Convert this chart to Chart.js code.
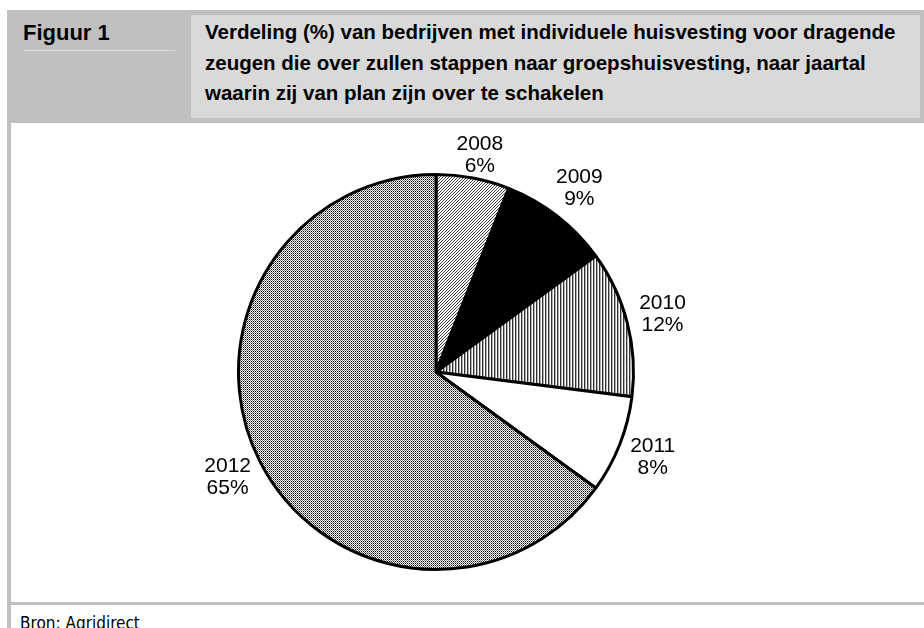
<!DOCTYPE html>
<html lang="nl">
<head>
    <meta charset="UTF-8">
    <title>Figuur 1</title>
    <script src="https://cdn.jsdelivr.net/npm/chart.js@4.4.0/dist/chart.umd.min.js"></script>
    <style>
        body {
            margin: 0;
            width: 924px;
            height: 628px;
            overflow: hidden;
            background: #ffffff;
            position: relative;
            font-family: 'Liberation Sans', Arial, sans-serif;
        }
        .frame {
            position: absolute;
            left: 7px;
            top: 10px;
            width: 917px;
            height: 113px;
            background: #c0c0c0;
        }
        .fig {
            position: absolute;
            left: 23px;
            top: 20px;
            font-weight: bold;
            font-size: 22px;
            color: #000;
        }
        .fig-line {
            position: absolute;
            left: 23px;
            top: 50px;
            width: 152px;
            height: 1px;
            background: #dcdcdc;
        }
        .title {
            position: absolute;
            left: 191px;
            top: 15px;
            width: 729px;
            height: 103px;
            background: #d9d9d9;
            box-sizing: border-box;
            padding: 2px 0 0 14px;
            font-weight: bold;
            font-size: 20.5px;
            line-height: 30.5px;
            color: #000;
        }
        .left-bar {
            position: absolute;
            left: 7px;
            top: 123px;
            width: 4px;
            height: 505px;
            background: #c0c0c0;
        }
        .bottom-bar {
            position: absolute;
            left: 7px;
            top: 602px;
            width: 917px;
            height: 3px;
            background: #c0c0c0;
        }
        .source {
            position: absolute;
            left: 20px;
            top: 613px;
            font-family: 'DejaVu Sans Condensed', 'Liberation Sans', sans-serif;
            font-size: 17px;
            color: #000;
        }
        .chart-box {
            position: absolute;
            left: 11px;
            top: 123px;
            width: 850px;
            height: 479px;
        }
    </style>
</head>
<body>
    <div class="frame"></div>
    <div class="fig">Figuur 1</div>
    <div class="fig-line"></div>
    <div class="title">Verdeling (%) van bedrijven met individuele huisvesting voor dragende<br>zeugen die over zullen stappen naar groepshuisvesting, naar jaartal<br>waarin zij van plan zijn over te schakelen</div>
    <div class="left-bar"></div>
    <div class="bottom-bar"></div>
    <div class="source">Bron: Agridirect</div>
    <div class="chart-box"><canvas id="pieChart"></canvas></div>

    <script>
        const years = ['2008', '2009', '2010', '2011', '2012'];
        const shares = [6, 9, 12, 8, 65];

        // kleine tegels voor de arceringen
        function makePattern(w, h, paint) {
            const c = document.createElement('canvas');
            c.width = w;
            c.height = h;
            const g = c.getContext('2d');
            g.fillStyle = '#ffffff';
            g.fillRect(0, 0, w, h);
            paint(g);
            return g.createPattern(c, 'repeat');
        }

        const hatchUp = makePattern(3, 3, g => {
            g.fillStyle = '#404040';
            g.fillRect(2, 0, 1, 1);
            g.fillRect(1, 1, 1, 1);
            g.fillRect(0, 2, 1, 1);
        });
        const vertical = makePattern(3, 1, g => {
            g.fillStyle = '#333333';
            g.fillRect(0, 0, 1, 1);
            g.fillStyle = '#b0b0b0';
            g.fillRect(1, 0, 1, 1);
        });
        const dotted = makePattern(2, 2, g => {
            g.fillStyle = '#000000';
            g.fillRect(0, 0, 1, 1);
            g.fillStyle = '#777777';
            g.fillRect(1, 1, 1, 1);
        });
        const fills = [hatchUp, '#000000', vertical, '#ffffff', dotted];

        // labels buiten de taart: jaar + percentage
        const outsideLabels = {
            id: 'outsideLabels',
            afterDatasetsDraw(chart) {
                const ctx = chart.ctx;
                const arcs = chart.getDatasetMeta(0).data;
                ctx.save();
                ctx.font = '21px "Liberation Sans", Arial, sans-serif';
                ctx.fillStyle = '#000';
                ctx.textAlign = 'center';
                ctx.textBaseline = 'middle';
                arcs.forEach((arc, i) => {
                    const p = arc.getProps(['x', 'y', 'startAngle', 'endAngle', 'outerRadius'], true);
                    const mid = (p.startAngle + p.endAngle) / 2;
                    const dx = Math.cos(mid), dy = Math.sin(mid);
                    const lines = [years[i], shares[i] + '%'];
                    const w = Math.max(...lines.map(t => ctx.measureText(t).width));
                    const h = 44;
                    const d = p.outerRadius + 13;
                    const cx = p.x + d * dx + dx * w / 2;
                    // niet boven de plotrand uitsteken
                    const cy = Math.max(p.y + d * dy + dy * h / 2, 32);
                    ctx.fillText(lines[0], cx, cy - 11);
                    ctx.fillText(lines[1], cx, cy + 11);
                });
                ctx.restore();
            }
        };

        new Chart(document.getElementById('pieChart'), {
            type: 'pie',
            data: {
                labels: years,
                datasets: [{
                    data: shares,
                    backgroundColor: fills,
                    borderColor: '#000000',
                    borderWidth: 3
                }]
            },
            options: {
                responsive: true,
                maintainAspectRatio: false,
                animation: false,
                layout: {
                    padding: { top: 50, bottom: 31 }
                },
                plugins: {
                    legend: { display: false },
                    tooltip: { enabled: false }
                }
            },
            plugins: [outsideLabels]
        });
    </script>
</body>
</html>
